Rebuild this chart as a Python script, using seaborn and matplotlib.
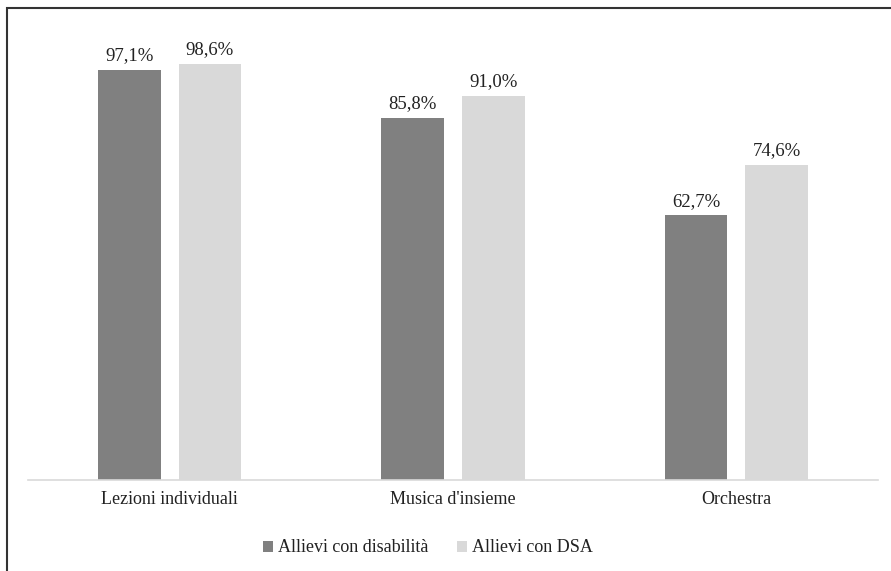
import matplotlib
matplotlib.use("Agg")
import matplotlib.pyplot as plt
import seaborn as sns
import pandas as pd
from matplotlib.patches import Rectangle, Patch

categories = ["Lezioni individuali", "Musica d'insieme", "Orchestra"]
series_names = ["Allievi con disabilità", "Allievi con DSA"]
disabilita = [97.1, 85.8, 62.7]
dsa = [98.6, 91.0, 74.6]
colors = ["#808080", "#d9d9d9"]

df = pd.DataFrame({
    "categoria": categories * 2,
    "gruppo": [series_names[0]] * 3 + [series_names[1]] * 3,
    "valore": disabilita + dsa,
})

sns.set_theme(style="white")
plt.rcParams["font.family"] = ["Liberation Serif", "DejaVu Serif"]

W, H = 891, 571
fig = plt.figure(figsize=(W / 100, H / 100), dpi=100)
ax = fig.add_axes([28 / W, (H - 480) / H, (878 - 28) / W, 422.3 / H])

sns.barplot(data=df, x="categoria", y="valore", hue="gruppo",
            palette=colors, width=0.568, gap=0.22, ax=ax,
            legend=False, errorbar=None, saturation=1, linewidth=0)

ax.set_ylim(0, 100)
ax.set_xlim(-0.5, 2.5)
ax.set_xlabel("")
ax.set_ylabel("")
ax.set_yticks([])
for s in ["top", "right", "left"]:
    ax.spines[s].set_visible(False)
ax.spines["bottom"].set_color("#d9d9d9")
ax.spines["bottom"].set_linewidth(1.2)
ax.tick_params(axis="x", length=0, pad=8, labelsize=13, labelcolor="#222222")

for container in ax.containers:
    labels = [f"{v:.1f}%".replace(".", ",") for v in container.datavalues]
    ax.bar_label(container, labels=labels, padding=4, fontsize=13.5,
                 color="#222222", clip_on=False)

handles = [Patch(facecolor=c, edgecolor="none") for c in colors]
fig.legend(handles, series_names, loc="center", bbox_to_anchor=(428 / W, 1 - 548 / H),
           ncol=2, frameon=False, fontsize=13, handlelength=0.55, handleheight=0.55,
           handletextpad=0.25, columnspacing=1.6, labelcolor="#222222")

# outer frame (top and left edges visible)
fig.patches.append(Rectangle((6.5 / W, -0.1), 1.2, 1 - 7.5 / H + 0.1,
                             transform=fig.transFigure, fill=False,
                             edgecolor="#333333", linewidth=1.5))

fig.savefig("out.png", dpi=100)
